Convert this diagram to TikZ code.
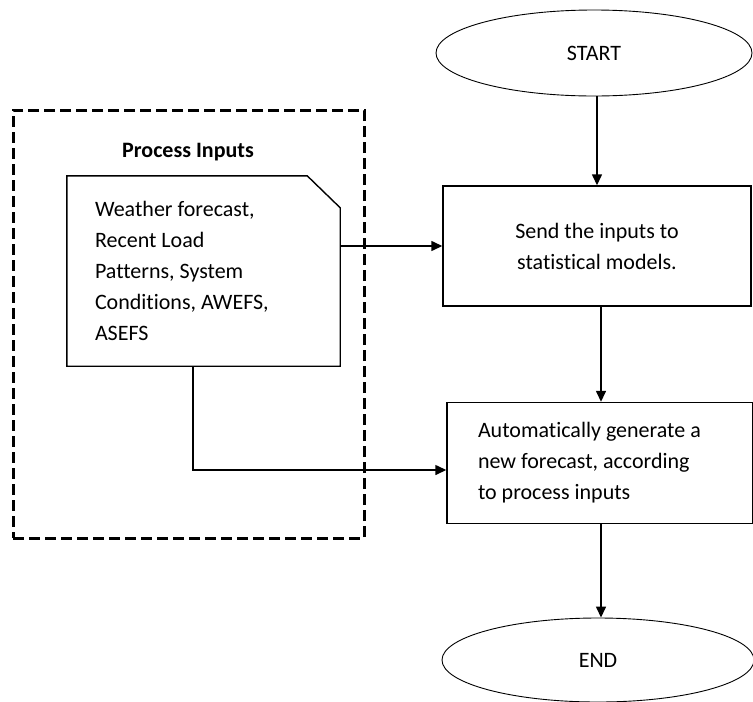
\documentclass[tikz,border=0pt]{standalone}
\usepackage{fontspec}
\setmainfont{Carlito}[Ligatures=NoCommon]
\usepackage{tikz}
\usetikzlibrary{positioning, arrows.meta, shapes.geometric}
\tikzstyle{termNode}=[draw, ellipse, line width=0.9pt, minimum width=316pt, minimum height=86pt, inner sep=0pt]
\tikzstyle{stepNode}=[draw, rectangle, line width=1.4pt, inner sep=0pt]
\tikzstyle{docNode}=[rectangle, inner ysep=0pt, inner xsep=28pt, align=flush left]
\tikzstyle{flowArrow}=[-{Triangle[length=11pt, width=10pt]}, line width=1.4pt]

\begin{document}
\begin{tikzpicture}[x=1pt, y=-1pt, font=\fontsize{22}{31}\selectfont]

    \useasboundingbox (0,0) rectangle (753,702);

    % nodes

    \node[draw, dash pattern=on 11pt off 5pt, line width=3pt, minimum width=351pt, minimum height=428pt, inner sep=0pt] (group) at (188.5,324) {};
    \node[font=\fontsize{22}{31}\selectfont\bfseries] (title) at (188,152) {Process Inputs};

    \node[docNode, text width=217pt, minimum height=190pt] (doc) at (203.5,271) {Weather forecast,\\Recent Load\\Patterns, System\\Conditions, AWEFS,\\ASEFS};
    \draw[line width=1.4pt] (doc.north west) -- ([xshift=-33pt]doc.north east) -- ([yshift=-32pt]doc.north east) -- (doc.south east) -- (doc.south west) -- cycle;

    \node[termNode] (start) at (594,53) {START};
    \node[stepNode, minimum width=308pt, minimum height=120pt, align=center] (send) at (597,246) {Send the inputs to\\statistical models.};
    \node[stepNode, minimum height=121pt, inner xsep=31pt, text width=244pt, align=flush left] (gen) at (600,463) {Automatically generate a\\new forecast, according\\to process inputs};
    \node[termNode, minimum width=312pt, minimum height=84pt] (end) at (598,660) {END};

    \coordinate (bend) at (193,470);

    % transition

    \draw[flowArrow] (start.south -| send.north) -- (send.north);
    \draw[flowArrow] (send.south -| 601,0) -- (gen.north -| 601,0);
    \draw[flowArrow] (gen.south -| 601,0) -- (end.north -| 601,0);
    \draw[flowArrow] (doc.east |- send.west) -- (send.west);
    \draw[flowArrow] (doc.south -| bend) -- (bend) -- (gen.west |- bend);

\end{tikzpicture}
\end{document}
